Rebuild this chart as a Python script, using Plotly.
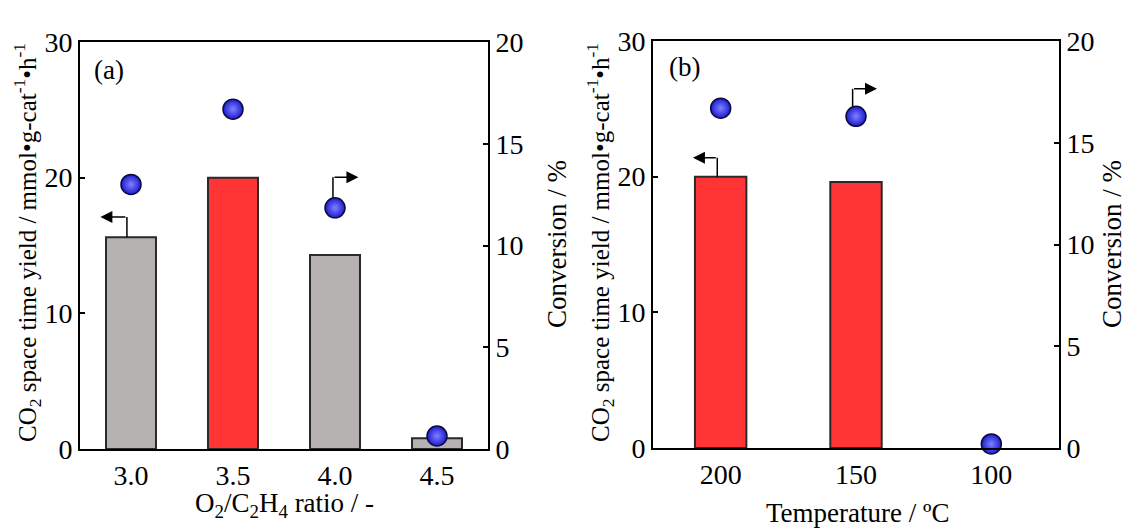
import plotly.graph_objects as go

# ---------------- data ----------------
cats_a = ["3.0", "3.5", "4.0", "4.5"]
yield_a = [15.6, 20.0, 14.3, 0.8]
conv_a = [13.0, 16.7, 11.85, 0.64]
bar_colors_a = ["#b6b2b2", "#ff3535", "#b6b2b2", "#b6b2b2"]

cats_b = ["200", "150", "100"]
yield_b = [20.0, 19.6, None]
conv_b = [16.7, 16.3, 0.2]
bar_colors_b = ["#ff3535", "#ff3535", "#ff3535"]

left_ticks = [0, 10, 20, 30]
right_ticks = [0, 5, 10, 15, 20]

left_title = "CO<sub>2</sub> space time yield / mmol•g-cat<sup>-1</sup>•h<sup>-1</sup>"
right_title = "Conversion / %"
xtitle_a = "O<sub>2</sub>/C<sub>2</sub>H<sub>4</sub> ratio / -"
xtitle_b = "Temperature / ºC"

OFF = 8  # page body margin
W, H = 1135 - OFF, 528 - OFF
FONT = "Liberation Serif, Times New Roman, serif"
TICK = 28
TITLE = 27

box_a = (80, 42, 488, 449)
box_b = (653, 41, 1059, 448)

def px_x(p):
    return (p - OFF) / W

def px_y(p):
    return 1 - (p - OFF) / H

def xdom(b):
    return [px_x(b[0]), px_x(b[2])]

def ydom(b):
    return [px_y(b[3]), px_y(b[1])]

def tfont(size):
    return dict(family=FONT, size=size, color="black")

fig = go.Figure()

marker_circle = dict(size=20, color="#1c1cd0", symbol="circle",
                     gradient=dict(type="radial", color="#8080ff"),
                     line=dict(width=1.5, color="#0a0a40"))

fig.add_trace(go.Bar(x=cats_a, y=yield_a, xaxis="x", yaxis="y", width=0.49,
                     marker=dict(color=bar_colors_a, line=dict(color="#2a2a2a", width=2)),
                     showlegend=False))
fig.add_trace(go.Scatter(x=cats_a, y=conv_a, xaxis="x", yaxis="y2", mode="markers",
                         marker=marker_circle, cliponaxis=False, showlegend=False))
fig.add_trace(go.Bar(x=cats_b, y=yield_b, xaxis="x2", yaxis="y3", width=0.38,
                     marker=dict(color=bar_colors_b, line=dict(color="#2a2a2a", width=2)),
                     showlegend=False))
fig.add_trace(go.Scatter(x=cats_b, y=conv_b, xaxis="x2", yaxis="y4", mode="markers",
                         marker=marker_circle, cliponaxis=False, showlegend=False))

axis_common = dict(showline=True, linecolor="black", linewidth=2, showgrid=False,
                   zeroline=False, tickfont=tfont(TICK), automargin=False)
yticks = dict(ticks="inside", ticklen=5, tickwidth=1.5, tickcolor="black")

fig.update_layout(
    width=W, height=H, margin=dict(l=0, r=0, t=0, b=0),
    paper_bgcolor="white", plot_bgcolor="white",
    font=tfont(TITLE),
    barmode="overlay",
    xaxis=dict(domain=xdom(box_a), anchor="y", mirror=True, ticks="", range=[-0.5, 3.5],
               **axis_common),
    yaxis=dict(domain=ydom(box_a), anchor="x", range=[0, 30], tickvals=left_ticks,
               **yticks, **axis_common),
    yaxis2=dict(overlaying="y", anchor="x", side="right", range=[0, 20], tickvals=right_ticks,
                **yticks, **axis_common),
    xaxis2=dict(domain=xdom(box_b), anchor="y3", mirror=True, ticks="", range=[-0.5, 2.5],
                **axis_common),
    yaxis3=dict(domain=ydom(box_b), anchor="x2", range=[0, 30], tickvals=left_ticks,
                **yticks, **axis_common),
    yaxis4=dict(overlaying="y3", anchor="x2", side="right", range=[0, 20], tickvals=right_ticks,
                **yticks, **axis_common),
)

def title_ann(text, cx, cy, angle, size):
    fig.add_annotation(text=text, xref="paper", yref="paper", x=px_x(cx), y=px_y(cy),
                       xanchor="center", yanchor="middle", textangle=angle,
                       showarrow=False, font=tfont(size))

title_ann(left_title, 27, 243, -90, 25)
title_ann(right_title, 557, 244, -90, TITLE)
title_ann(xtitle_a, 284, 505, 0, TITLE)
title_ann(left_title, 600, 243, -90, 25)
title_ann(right_title, 1112, 244, -90, TITLE)
title_ann(xtitle_b, 857, 513, 0, TITLE)

fig.add_annotation(text="(a)", xref="x domain", yref="y domain", x=0.03, y=0.93,
                   xanchor="left", yanchor="middle", showarrow=False, font=tfont(TITLE))
fig.add_annotation(text="(b)", xref="x2 domain", yref="y3 domain", x=0.035, y=0.935,
                   xanchor="left", yanchor="middle", showarrow=False, font=tfont(TITLE))

def elbow(xref, yref, xi, y0, rise, run):
    ye = y0 + rise
    fig.add_shape(type="line", xref=xref, yref=yref, x0=xi, x1=xi, y0=y0, y1=ye,
                  line=dict(color="black", width=1.5))
    fig.add_annotation(xref=xref, yref=yref, axref=xref, ayref=yref,
                       x=xi + run, y=ye, ax=xi, ay=ye, text="", showarrow=True,
                       arrowhead=2, arrowsize=1.6, arrowwidth=1.5, arrowcolor="black")

elbow("x", "y", 0 - 0.04, yield_a[0], 1.5, -0.26)
elbow("x", "y2", 2 - 0.02, conv_a[2] + 0.5, 1.0, 0.25)
elbow("x2", "y3", 0 - 0.025, yield_b[0], 1.4, -0.18)
elbow("x2", "y4", 1 - 0.025, conv_b[1] + 0.5, 0.85, 0.18)

fig.write_html("out.html")
